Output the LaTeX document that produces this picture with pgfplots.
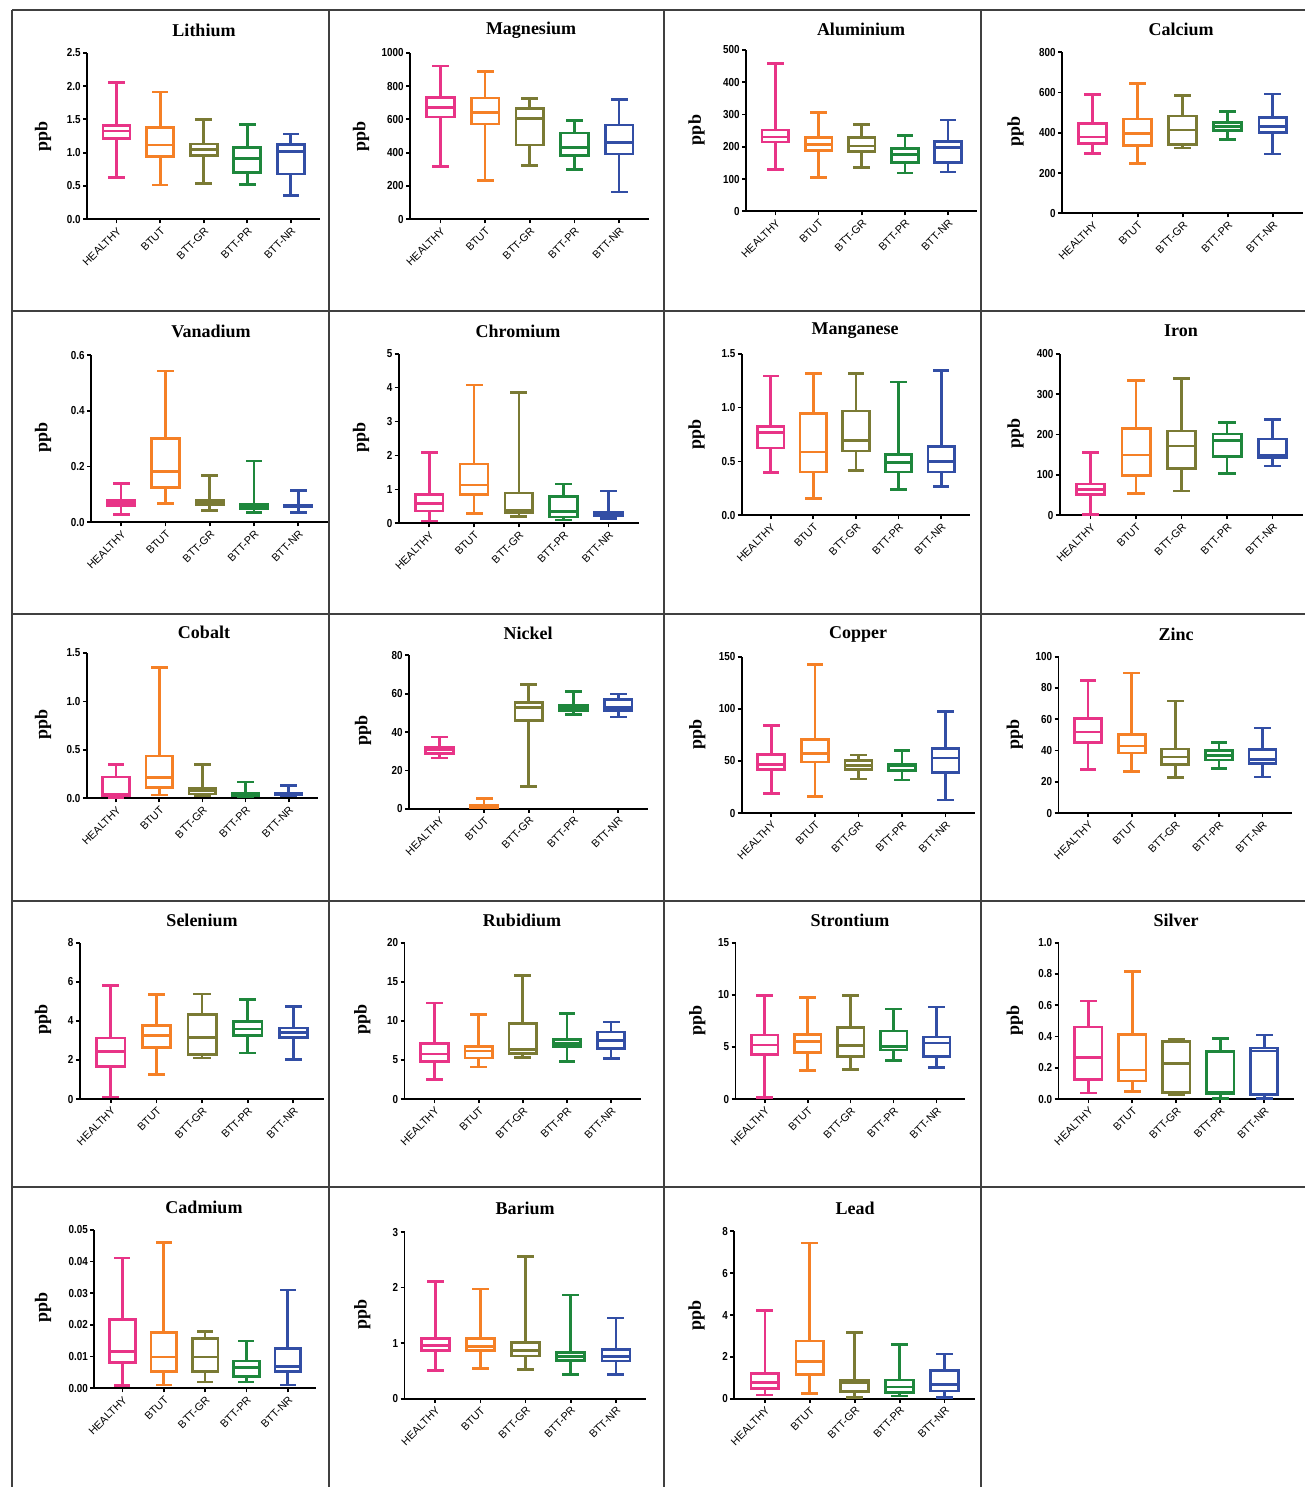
\documentclass[border=0pt]{standalone}
\usepackage{pgfplots}
\pgfplotsset{compat=1.18}
\usepackage{fontspec}
\setmainfont{Liberation Serif}
\newfontfamily\catfam{Liberation Sans}
\newfontfamily\numfam[FakeStretch=0.85]{Liberation Sans}
\newcommand{\catf}{\catfam\fontsize{5.4}{6}\selectfont}
\newcommand{\numf}{\numfam\bfseries\fontsize{5.8}{6}\selectfont}
\definecolor{cH}{RGB}{232,52,135}
\definecolor{cB}{RGB}{245,128,38}
\definecolor{cG}{RGB}{122,122,52}
\definecolor{cP}{RGB}{30,135,60}
\definecolor{cN}{RGB}{50,78,165}
% box: position, colour, min, Q1, median, Q3, max
\newcommand{\bx}[7]{%
 \pgfmathsetmacro\xa{#1-0.31}\pgfmathsetmacro\xb{#1+0.31}%
 \pgfmathsetmacro\wa{#1-0.16}\pgfmathsetmacro\wb{#1+0.16}%
 \addplot[draw=#2, line width=1.35pt, line cap=rect, line join=miter] coordinates {(\xa,#4) (\xb,#4) (\xb,#6) (\xa,#6) (\xa,#4) (nan,nan) (\xa,#5) (\xb,#5) (nan,nan) (#1,#4) (#1,#3) (nan,nan) (\wa,#3) (\wb,#3) (nan,nan) (#1,#6) (#1,#7) (nan,nan) (\wa,#7) (\wb,#7)};}
\newcommand{\ttl}[3]{\node[font=\bfseries\fontsize{9}{10}\selectfont] at (#1pt,#2pt) {#3};}
\newcommand{\ppb}[2]{\node[rotate=90, font=\bfseries\fontsize{9}{10}\selectfont] at (#1pt,#2pt) {ppb};}
\pgfplotsset{pan/.style={scale only axis, anchor=south west, xmin=-0.68, xmax=4.67, ymin=0,
  unbounded coords=jump,
  axis x line*=bottom, axis y line*=left, axis line style={line width=0.85pt},
  xtick={0,1,2,3,4}, xticklabels={HEALTHY,BTUT,BTT-GR,BTT-PR,BTT-NR},
  xticklabel style={rotate=45, anchor=north east, font=\catf, inner sep=1pt},
  yticklabel style={font=\numf, inner sep=1pt},
  tick align=outside, major tick length=2pt, tick style={line width=0.85pt, black},
  /pgf/number format/assume math mode=true, /pgf/number format/1000 sep={}, minor tick num=0}}
\begin{document}
\begin{tikzpicture}
\path[use as bounding box] (0,0) rectangle (652.5pt,-743.5pt);
\begin{scope}[line width=0.75pt, black!75]
\draw (6pt,-5pt) -- (652.5pt,-5pt);
\draw (6pt,-155.5pt) -- (652.5pt,-155.5pt);
\draw (6pt,-307pt) -- (652.5pt,-307pt);
\draw (6pt,-450.5pt) -- (652.5pt,-450.5pt);
\draw (6pt,-593.5pt) -- (652.5pt,-593.5pt);
\draw (6pt,-5pt) -- (6pt,-743.5pt);
\draw (164.5pt,-5pt) -- (164.5pt,-743.5pt);
\draw (332pt,-5pt) -- (332pt,-743.5pt);
\draw (490.5pt,-5pt) -- (490.5pt,-743.5pt);
\end{scope}
% Row 1
\ttl{102}{-15}{Lithium}\ppb{21.5}{-68.3}
\begin{axis}[pan, at={(43.5pt,-109.65pt)}, width=116.5pt, height=83.3pt, ymax=2.5, ytick={0,0.5,1,1.5,2,2.5}, yticklabel style={/pgf/number format/.cd, fixed, fixed zerofill, precision=1}]
\bx{0}{cH}{0.625}{1.215}{1.325}{1.405}{2.05}
\bx{1}{cB}{0.515}{0.94}{1.115}{1.375}{1.91}
\bx{2}{cG}{0.535}{0.96}{1.05}{1.13}{1.5}
\bx{3}{cP}{0.52}{0.70}{0.91}{1.075}{1.425}
\bx{4}{cN}{0.36}{0.68}{1.02}{1.125}{1.28}
\end{axis}
\ttl{265.5}{-15}{Magnesium}\ppb{180.5}{-68.3}
\begin{axis}[pan, at={(205pt,-109.65pt)}, width=119.5pt, height=83.3pt, ymax=1000, ytick={0,200,400,600,800,1000}]
\bx{0}{cH}{318}{614}{670}{732}{920}
\bx{1}{cB}{234}{572}{642}{728}{888}
\bx{2}{cG}{324}{446}{606}{664}{724}
\bx{3}{cP}{298}{384}{432}{518}{594}
\bx{4}{cN}{164}{392}{460}{566}{720}
\end{axis}
\ttl{430.5}{-14.5}{Aluminium}\ppb{348.3}{-65}
\begin{axis}[pan, at={(373pt,-105.65pt)}, width=115.5pt, height=80.65pt, ymax=500, ytick={0,100,200,300,400,500}]
\bx{0}{cH}{130}{215}{230}{252}{458}
\bx{1}{cB}{105}{188}{207}{229}{306}
\bx{2}{cG}{135}{185}{202}{228}{269}
\bx{3}{cP}{119}{152}{177}{194}{235}
\bx{4}{cN}{122}{151}{197}{216}{283}
\end{axis}
\ttl{590.5}{-14.5}{Calcium}\ppb{507.8}{-65.8}
\begin{axis}[pan, at={(531pt,-106.65pt)}, width=120.5pt, height=80.5pt, ymax=800, ytick={0,200,400,600,800}]
\bx{0}{cH}{298}{346}{379}{447}{589}
\bx{1}{cB}{248}{338}{397}{469}{644}
\bx{2}{cG}{324}{343}{414}{483}{584}
\bx{3}{cP}{366}{411}{430}{450}{505}
\bx{4}{cN}{295}{402}{430}{477}{593}
\end{axis}
% Row 2
\ttl{105.5}{-165.5}{Vanadium}\ppb{21.5}{-218.8}
\begin{axis}[pan, at={(45.5pt,-261.15pt)}, width=118.5pt, height=83.5pt, ymax=0.6, ytick={0,0.2,0.4,0.6}, yticklabel style={/pgf/number format/.cd, fixed, fixed zerofill, precision=1}]
\bx{0}{cH}{0.0275}{0.061}{0.071}{0.080}{0.139}
\bx{1}{cB}{0.067}{0.126}{0.183}{0.302}{0.544}
\bx{2}{cG}{0.043}{0.065}{0.074}{0.079}{0.168}
\bx{3}{cP}{0.034}{0.050}{0.059}{0.065}{0.220}
\bx{4}{cN}{0.035}{0.055}{0.060}{0.062}{0.115}
\end{axis}
\ttl{259}{-165.5}{Chromium}\ppb{180.5}{-218.8}
\begin{axis}[pan, at={(199.35pt,-261.65pt)}, width=119.95pt, height=84.8pt, ymax=5, ytick={0,1,2,3,4,5}]
\bx{0}{cH}{0.07}{0.36}{0.59}{0.855}{2.09}
\bx{1}{cB}{0.295}{0.845}{1.13}{1.75}{4.08}
\bx{2}{cG}{0.2}{0.31}{0.39}{0.89}{3.86}
\bx{3}{cP}{0.1}{0.19}{0.34}{0.80}{1.16}
\bx{4}{cN}{0.15}{0.23}{0.29}{0.33}{0.95}
\end{axis}
\ttl{427.5}{-165.5}{Manganese}\ppb{348.3}{-217.2}
\begin{axis}[pan, at={(370.85pt,-257.65pt)}, width=114.05pt, height=80.8pt, ymax=1.5, ytick={0,0.5,1,1.5}, yticklabel style={/pgf/number format/.cd, fixed, fixed zerofill, precision=1}]
\bx{0}{cH}{0.40}{0.625}{0.77}{0.826}{1.293}
\bx{1}{cB}{0.158}{0.402}{0.588}{0.946}{1.318}
\bx{2}{cG}{0.414}{0.597}{0.696}{0.968}{1.318}
\bx{3}{cP}{0.238}{0.402}{0.492}{0.566}{1.237}
\bx{4}{cN}{0.269}{0.402}{0.50}{0.64}{1.342}
\end{axis}
\ttl{590.5}{-165.5}{Iron}\ppb{507.8}{-216.8}
\begin{axis}[pan, at={(529.85pt,-257.65pt)}, width=121.65pt, height=80.8pt, ymax=400, ytick={0,100,200,300,400}]
\bx{0}{cH}{2.5}{52}{64}{77.5}{155}
\bx{1}{cB}{54}{98}{149}{215}{333}
\bx{2}{cG}{60}{116}{171.5}{209}{338}
\bx{3}{cP}{103}{145}{185.6}{201}{230}
\bx{4}{cN}{122}{143.5}{149}{189}{237.5}
\end{axis}
% Row 3
\ttl{102}{-316}{Cobalt}\ppb{21.5}{-362}
\begin{axis}[pan, at={(43.4pt,-399.15pt)}, width=115.4pt, height=72.65pt, ymax=1.5, ytick={0,0.5,1,1.5}, yticklabel style={/pgf/number format/.cd, fixed, fixed zerofill, precision=1}]
\bx{0}{cH}{0.007}{0.031}{0.041}{0.22}{0.347}
\bx{1}{cB}{0.034}{0.114}{0.217}{0.437}{1.352}
\bx{2}{cG}{0.028}{0.045}{0.076}{0.103}{0.347}
\bx{3}{cP}{0.017}{0.031}{0.045}{0.055}{0.169}
\bx{4}{cN}{0.024}{0.034}{0.045}{0.055}{0.134}
\end{axis}
\ttl{264}{-316.5}{Nickel}\ppb{181.5}{-365.3}
\begin{axis}[pan, at={(204.5pt,-404.35pt)}, width=119.6pt, height=76.7pt, ymax=80, ytick={0,20,40,60,80}]
\bx{0}{cH}{26.4}{28.7}{30.6}{32}{37.4}
\bx{1}{cB}{0.17}{0.35}{0.9}{1.6}{5.4}
\bx{2}{cG}{11.5}{45.9}{52.7}{55.5}{64.7}
\bx{3}{cP}{49}{51.1}{52.5}{53.9}{61}
\bx{4}{cN}{47.8}{51.1}{52.9}{57}{59.8}
\end{axis}
\ttl{429}{-317}{Copper}\ppb{348.7}{-367}
\begin{axis}[pan, at={(370.85pt,-406.5pt)}, width=116.5pt, height=78.15pt, ymax=150, ytick={0,50,100,150}]
\bx{0}{cH}{18.9}{41.9}{46.4}{56.3}{83.8}
\bx{1}{cB}{16}{48.9}{57.2}{70.4}{142.3}
\bx{2}{cG}{32.6}{41.6}{45.7}{50.2}{55.6}
\bx{3}{cP}{31.7}{40.6}{45.1}{47}{60.1}
\bx{4}{cN}{12.5}{38.7}{52.8}{62}{97.5}
\end{axis}
\ttl{588}{-317}{Zinc}\ppb{507.4}{-367}
\begin{axis}[pan, at={(529.25pt,-406.5pt)}, width=116.55pt, height=78.15pt, ymax=100, ytick={0,20,40,60,80,100}]
\bx{0}{cH}{27.7}{45.2}{51.8}{60.3}{85}
\bx{1}{cB}{26.7}{38.4}{42.9}{50.3}{89.6}
\bx{2}{cG}{22.6}{30.9}{35.8}{40.9}{71.6}
\bx{3}{cP}{28.6}{33.9}{36.9}{39.9}{45}
\bx{4}{cN}{23}{31.8}{34.1}{40.5}{54.4}
\end{axis}
% Row 4
\ttl{101}{-460}{Selenium}\ppb{21.5}{-509.7}
\begin{axis}[pan, at={(39.9pt,-549.5pt)}, width=122.05pt, height=78.15pt, ymax=8, ytick={0,2,4,6,8}]
\bx{0}{cH}{0.1}{1.67}{2.42}{3.12}{5.82}
\bx{1}{cB}{1.25}{2.65}{3.26}{3.77}{5.36}
\bx{2}{cG}{2.1}{2.27}{3.14}{4.32}{5.38}
\bx{3}{cP}{2.35}{3.24}{3.58}{3.98}{5.1}
\bx{4}{cN}{2.01}{3.16}{3.41}{3.63}{4.74}
\end{axis}
\ttl{261}{-460}{Rubidium}\ppb{181.2}{-509.7}
\begin{axis}[pan, at={(202.25pt,-549.5pt)}, width=118.1pt, height=78.15pt, ymax=20, ytick={0,5,10,15,20}]
\bx{0}{cH}{2.47}{4.82}{5.76}{7.08}{12.3}
\bx{1}{cB}{4.09}{5.25}{6.14}{6.74}{10.8}
\bx{2}{cG}{5.29}{5.84}{6.31}{9.68}{15.8}
\bx{3}{cP}{4.82}{6.74}{7.12}{7.59}{10.96}
\bx{4}{cN}{5.2}{6.48}{7.5}{8.57}{9.85}
\end{axis}
\ttl{425}{-460}{Strontium}\ppb{348.7}{-510}
\begin{axis}[pan, at={(367.75pt,-549.5pt)}, width=114.9pt, height=78.15pt, ymax=15, ytick={0,5,10,15}]
\bx{0}{cH}{0.13}{4.25}{5.18}{6.14}{9.91}
\bx{1}{cB}{2.72}{4.48}{5.5}{6.17}{9.75}
\bx{2}{cG}{2.85}{4.09}{5.15}{6.84}{9.95}
\bx{3}{cP}{3.71}{4.7}{5.05}{6.52}{8.63}
\bx{4}{cN}{3.04}{4.09}{5.37}{5.95}{8.83}
\end{axis}
\ttl{588}{-460}{Silver}\ppb{507.4}{-510}
\begin{axis}[pan, at={(529.25pt,-549.5pt)}, width=117.55pt, height=78.15pt, ymax=1, ytick={0,0.2,0.4,0.6,0.8,1}, yticklabel style={/pgf/number format/.cd, fixed, fixed zerofill, precision=1}]
\bx{0}{cH}{0.038}{0.124}{0.267}{0.46}{0.627}
\bx{1}{cB}{0.047}{0.115}{0.186}{0.414}{0.817}
\bx{2}{cG}{0.028}{0.043}{0.228}{0.369}{0.38}
\bx{3}{cP}{0.004}{0.034}{0.043}{0.303}{0.386}
\bx{4}{cN}{0.004}{0.03}{0.307}{0.326}{0.41}
\end{axis}
% Row 5
\ttl{102}{-603.5}{Cadmium}\ppb{21.5}{-653.8}
\begin{axis}[pan, at={(47.15pt,-694.15pt)}, width=110.6pt, height=79.3pt, ymax=0.05, ytick={0,0.01,0.02,0.03,0.04,0.05}, yticklabel style={/pgf/number format/.cd, fixed, fixed zerofill, precision=2}, scaled y ticks=false]
\bx{0}{cH}{0.00095}{0.0082}{0.01155}{0.0216}{0.0411}
\bx{1}{cB}{0.001}{0.0053}{0.0099}{0.0176}{0.046}
\bx{2}{cG}{0.002}{0.0053}{0.0099}{0.0157}{0.018}
\bx{3}{cP}{0.002}{0.0038}{0.0065}{0.0086}{0.0149}
\bx{4}{cN}{0.001}{0.0053}{0.0069}{0.0126}{0.031}
\end{axis}
\ttl{262.5}{-604}{Barium}\ppb{181.2}{-657.4}
\begin{axis}[pan, at={(202.25pt,-699.35pt)}, width=120.8pt, height=83.35pt, ymax=3, ytick={0,1,2,3}]
\bx{0}{cH}{0.504}{0.87}{0.954}{1.08}{2.106}
\bx{1}{cB}{0.54}{0.87}{0.942}{1.086}{1.974}
\bx{2}{cG}{0.522}{0.768}{0.87}{1.014}{2.556}
\bx{3}{cP}{0.432}{0.69}{0.762}{0.834}{1.866}
\bx{4}{cN}{0.438}{0.678}{0.762}{0.888}{1.452}
\end{axis}
\ttl{427.5}{-604}{Lead}\ppb{348.3}{-657.7}
\begin{axis}[pan, at={(367.15pt,-699.35pt)}, width=120.2pt, height=83.7pt, ymax=8, ytick={0,2,4,6,8}]
\bx{0}{cH}{0.175}{0.49}{0.78}{1.2}{4.22}
\bx{1}{cB}{0.24}{1.15}{1.78}{2.76}{7.44}
\bx{2}{cG}{0.05}{0.35}{0.765}{0.89}{3.17}
\bx{3}{cP}{0.13}{0.3}{0.56}{0.89}{2.6}
\bx{4}{cN}{0.06}{0.37}{0.685}{1.35}{2.14}
\end{axis}
\end{tikzpicture}
\end{document}
